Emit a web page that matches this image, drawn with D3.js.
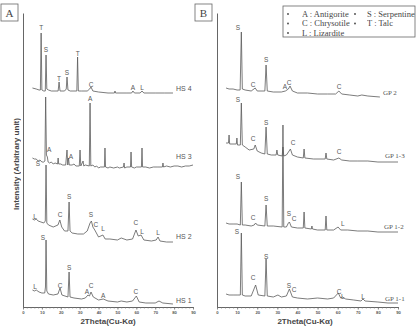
<!DOCTYPE html>
<html><head><meta charset="utf-8">
<script src="https://cdn.jsdelivr.net/npm/d3@7"></script>
<style>
html,body{margin:0;padding:0;background:#fff;}
svg{display:block;}
text{opacity:0.99;}
</style></head>
<body>
<svg id="chart" width="417" height="327"></svg>
<script>
// ---- DATA: [2theta (deg), intensity incl. stacking offset (arb. unit)] ----
const HS4 = [[5,219],[7,218],[8.5,217],[9.2,217],[9.6,274],[10.0,217],[11.0,216],[11.8,216],[12.2,252],[12.6,218],[13.5,217],[15,216],[18.6,216],[19.1,225],[19.6,216],[22,216],[22.9,218],[23.3,230],[23.8,217],[25,216],[28.5,216],[28.9,250],[29.3,216],[31,216],[34,216],[35.3,218],[36,220],[37,216],[40,215],[45,214],[48.4,214],[48.7,216],[49,214],[55,214],[57.5,214],[58.2,216],[59,214],[62,214],[63,216],[64,214],[70,214],[75,214],[79.4,214]];
const HS3 = [[5,149],[6,148],[7,148],[8,146],[9,147],[10,145],[11,145],[11.6,146],[12.0,210],[12.4,152],[12.9,150],[13.3,145],[14,144],[15,145],[16,143],[17,144],[18.3,143],[18.6,149],[18.9,143],[20,143],[21,142],[22.6,142],[23.3,157],[23.7,142],[24.1,149],[24.5,142],[26,142],[27,143],[28,141],[29.8,141],[30.2,157],[30.6,141],[31.8,146],[32.2,141],[33,142],[35.1,141],[35.5,204],[35.9,141],[37,142],[38,140],[39,141],[40,139],[41,140],[43.1,140],[43.4,159],[43.7,140],[45,139],[46,140],[48,139],[50,140],[51,139],[53.2,140],[53.5,144],[53.8,139],[55,140],[56.9,140],[57.2,155],[57.5,140],[59,139],[60,140],[62.7,140],[63,159],[63.3,140],[65,140],[67,139],[69,140],[71,140],[73.8,140],[74.1,144],[74.4,140],[76,141],[78,140],[80,141],[82,141],[84,140],[86,141],[88,141],[90,142]];
const HS2 = [[5,88],[6,87],[7,88],[8,86],[9.5,85],[11,84],[11.8,86],[12.2,142],[12.6,84],[13.5,82],[16,80],[18.5,82],[19.5,87],[20.5,80],[22,76],[23.8,76],[24.4,105],[24.9,76],[26,74],[29,73],[32,73],[34,76],[35.5,84],[36.2,86],[37,80],[38,77],[40,70],[42.3,72],[43.5,68],[46,68],[50,67],[52,69],[55,67],[58,68],[59.8,77],[61,71],[62.5,72],[64,67],[68,66],[70.5,67],[71.5,70],[72.5,66],[76,65],[79.4,65]];
const HS1 = [[5,17],[6,16],[7,17],[8.5,15],[10,14],[11.5,14],[11.9,20],[12.2,67],[12.6,16],[13.5,13],[16,12],[18.5,13],[19.6,19],[20.6,12],[23.8,10],[24.4,35],[24.9,10],[27,9],[31,8],[33,9],[34.4,12],[35.2,11],[36,15],[37.2,10],[40,7],[42.5,8],[45,6],[50,5],[52,6],[55,5],[58,6],[60,11],[61.5,5],[65,4],[70,4],[72,6],[74,4],[79.4,3]];
const GP2 = [[4.5,219],[6,218],[8,218],[10,217],[11.5,217],[12.1,275],[12.6,218],[14,217],[17,216],[19,219],[20,216],[23.8,216],[24.4,242],[25,216],[28,215],[32,215],[34,216],[35.5,218],[36.3,221],[37.5,216],[40,214],[45,214],[50,213],[55,213],[59,213],[60.6,216],[62,213],[66,212],[70,211],[72,212],[75,211],[81,210]];
const GP13 = [[4.5,164],[5.7,164],[6.0,172],[6.3,163],[9.6,163],[9.9,169],[10.2,162],[11.6,162],[12.1,204],[12.6,162],[14,160],[16,157],[18.3,158],[19,162],[20,156],[22,154],[23.8,153],[24.4,180],[25,153],[27,152],[29.4,152],[29.8,157],[30.2,152],[32.4,151],[32.8,160],[33.2,151],[34.5,152],[35.2,154],[36.5,158],[37.5,152],[40,150],[42.9,149],[43.3,158],[43.7,149],[48,148],[53.8,148],[54.2,154],[54.6,148],[58,147],[60.6,149],[62,147],[66,146],[70,146],[75,146],[80,145],[85,145],[90,145]];
const GP12 = [[4.5,84],[6,83],[8,83],[10,83],[11.6,82],[12.1,125],[12.6,82],[14,82],[17,81],[18.5,82],[19.2,84],[20,82],[23.8,81],[24.4,102],[25,81],[28,81],[32.4,80],[32.8,182],[33.2,80],[34.5,80],[35.5,84],[36,85],[37,80],[40,79],[42.9,79],[43.3,95],[43.7,79],[46.9,78],[47.2,81],[47.5,78],[50,77],[53.8,77],[54.2,91],[54.6,77],[58,77],[60.2,80],[61.5,77],[65,77],[70,76],[75,76],[80,75],[85,75],[90,75]];
const GP11 = [[4.5,13],[6,12],[8,12],[10,12],[11.6,12],[12.1,74],[12.6,12],[14,11],[17,11],[19.2,22],[20.5,12],[23.8,11],[24.4,48],[25,11],[28,10],[30.3,12],[32,10],[34.5,11],[36,18],[37.5,10],[40,9],[45,8],[50,9],[55,8],[58,9],[60.3,14],[61.5,9],[62.5,10],[64,8],[68,7],[71.6,6],[72.6,8],[73.6,6],[80,5],[85,4],[90,4]];

// peak labels: [letter, 2theta, intensity]
const HS4_labels = [["T",9.6,279],["S",12.2,257],["T",19.1,228],["S",23.3,234],["T",29.0,253],["C",36.0,222],["A",58.2,219],["L",63.0,219]];
const HS3_labels = [["S",7.9,143],["A",13.8,157],["A",25.4,150],["A",35.5,208]];
const HS2_labels = [["L",6.4,90],["C",19.6,92],["S",24.4,110],["S",36.0,92],["C",38.6,82],["L",42.4,78],["C",59.8,84],["L",63.0,75],["L",71.5,74]];
const HS1_labels = [["L",6.4,20],["S",10.6,69],["C",19.6,21],["S",24.4,39],["A",33.9,15],["C",36.0,21],["A",42.4,11],["C",59.8,15]];
const GP2_labels = [["S",10.4,279],["C",17.9,222],["S",24.4,247],["A",33.8,220],["C",35.8,224],["C",60.7,220]];
const GP13_labels = [["S",10.4,207],["C",17.9,168],["S",24.4,184],["C",37.8,164],["C",60.7,155]];
const GP12_labels = [["S",10.4,130],["C",17.9,89],["S",24.4,108],["S",35.8,93],["C",38.3,88],["L",62.6,83]];
const GP11_labels = [["S",9.9,75],["C",17.9,29],["S",24.4,50],["S",35.8,21],["C",38.3,17],["C",60.7,15],["L",62.6,10],["L",72.6,10]];

const namesA = ["HS 4","HS 3","HS 2","HS 1"];
const namePosA = [[81,218],[81,150],[81,70],[81,6]];
const namesB = ["GP 2","GP 1-3","GP 1-2","GP 1-1"];
const namePosB = [[82.5,214],[83.5,151],[83,80],[83.5,8]];

const xTicks = [0,10,20,30,40,50,60,70,80,90];
const legendRows = [["A : Antigorite","S : Serpentine"],["C : Chrysotile","T : Talc"],["L : Lizardite",null]];

// ---- DRAW ----
const svg = d3.select("#chart");
const y = d3.scaleLinear().domain([0,294]).range([307,13]);
const xA = d3.scaleLinear().domain([0,90]).range([23,193]);
const xB = d3.scaleLinear().domain([0,90]).range([217,398]);

const lineCol = "#5a5a5a";
const sans = "Liberation Sans, Arial, sans-serif";
const serif = "Liberation Serif, Times New Roman, serif";

function panel(x, series, labels, names, namePos, nameFont, panelLetter, boxX, titleX){
  svg.append("g").attr("transform",`translate(${x.range()[0]},0)`)
    .call(d3.axisLeft(y).tickValues([]).tickSizeOuter(0))
    .select(".domain").attr("stroke","#666").attr("stroke-width",1);
  svg.append("g").attr("transform","translate(0,307)")
    .call(d3.axisBottom(x).tickValues(d3.range(0,91,2)).tickSize(1.6).tickSizeOuter(0).tickFormat(""))
    .call(g=>g.select(".domain").attr("stroke","#666"))
    .call(g=>g.selectAll(".tick line").attr("stroke","#777").attr("stroke-width",0.6));
  svg.append("g").attr("transform","translate(0,307)")
    .call(d3.axisBottom(x).tickValues(xTicks).tickSize(2.6).tickSizeOuter(0).tickPadding(1).tickFormat(d3.format("d")))
    .call(g=>g.select(".domain").remove())
    .call(g=>g.selectAll(".tick line").attr("stroke","#666").attr("stroke-width",0.7))
    .call(g=>g.selectAll(".tick text").attr("font-size",4.2).attr("font-weight","bold")
        .attr("font-family",sans).attr("fill","#555"));
  svg.append("text").attr("x",titleX).attr("y",324).attr("text-anchor","middle")
    .attr("font-family",sans).attr("font-weight","bold")
    .attr("font-size",8).attr("fill","#444").text("2Theta(Cu-K\u03b1)");
  const line = d3.line().x(d=>x(d[0])).y(d=>y(d[1]));
  series.forEach(s=>{
    svg.append("path").datum(s).attr("d",line).attr("fill","none")
      .attr("stroke",lineCol).attr("stroke-width",0.8).attr("stroke-linejoin","round");
  });
  labels.forEach(ls=>{
    svg.append("g").selectAll("text").data(ls).join("text")
      .attr("x",d=>x(d[1])).attr("y",d=>y(d[2])).attr("dy","0.35em")
      .attr("text-anchor","middle").attr("font-family",sans)
      .attr("font-size",6.5).attr("fill","#555").text(d=>d[0]);
  });
  names.forEach((n,i)=>{
    svg.append("text").attr("x",x(namePos[i][0])).attr("y",y(namePos[i][1])).attr("dy","0.35em")
      .attr("font-family",nameFont).attr("font-size",7).attr("fill","#555").text(n);
  });
  svg.append("rect").attr("x",boxX).attr("y",4).attr("width",17).attr("height",17)
    .attr("fill","#fff").attr("stroke","#666").attr("stroke-width",0.8);
  svg.append("text").attr("x",boxX+8.5).attr("y",12.8).attr("dy","0.35em").attr("text-anchor","middle")
    .attr("font-family",serif).attr("font-size",11).attr("fill","#444").text(panelLetter);
}

panel(xA,[HS4,HS3,HS2,HS1],[HS4_labels,HS3_labels,HS2_labels,HS1_labels],namesA,namePosA,sans,"A",1,108);
panel(xB,[GP2,GP13,GP12,GP11],[GP2_labels,GP13_labels,GP12_labels,GP11_labels],namesB,namePosB,serif,"B",195,305);

svg.append("text").attr("transform","translate(16,164) rotate(-90)").attr("dy","0.35em")
  .attr("text-anchor","middle").attr("font-family",sans)
  .attr("font-weight","bold").attr("font-size",7.5).attr("fill","#444")
  .attr("textLength",92).attr("lengthAdjust","spacingAndGlyphs")
  .text("Intensity (Arbitrary unit)");

const lg = svg.append("g");
lg.append("rect").attr("x",283).attr("y",6).attr("width",132).attr("height",31)
  .attr("fill","#fff").attr("stroke","#666").attr("stroke-width",0.8);
legendRows.forEach((r,i)=>{
  const cy = 14 + i*9.5;
  lg.append("circle").attr("cx",288).attr("cy",cy).attr("r",0.9).attr("fill","#444");
  lg.append("text").attr("x",302).attr("y",cy).attr("dy","0.35em").attr("font-family",serif)
    .attr("font-size",8.5).attr("fill","#444").text(r[0]);
  if(r[1]){
    lg.append("circle").attr("cx",355).attr("cy",cy).attr("r",0.9).attr("fill","#444");
    lg.append("text").attr("x",367).attr("y",cy).attr("dy","0.35em").attr("font-family",serif)
      .attr("font-size",8.5).attr("fill","#444").text(r[1]);
  }
});
</script>
</body></html>
